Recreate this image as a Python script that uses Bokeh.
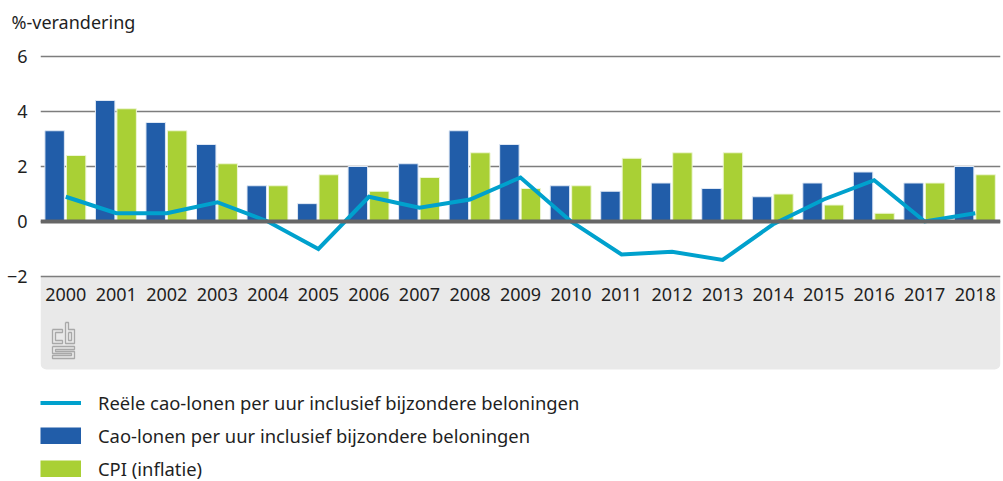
from bokeh.plotting import figure
from bokeh.embed import file_html
from bokeh.resources import INLINE
from bokeh.models import (ColumnDataSource, FactorRange, Range1d, FixedTicker, Span, BoxAnnotation,
                          Legend, LegendItem)
from bokeh.transform import dodge

years = [str(y) for y in range(2000, 2019)]
cao = [3.3, 4.4, 3.6, 2.8, 1.3, 0.65, 2.0, 2.1, 3.3, 2.8, 1.3, 1.1, 1.4, 1.2, 0.9, 1.4, 1.8, 1.4, 2.0]
cpi = [2.4, 4.1, 3.3, 2.1, 1.3, 1.7, 1.1, 1.6, 2.5, 1.2, 1.3, 2.3, 2.5, 2.5, 1.0, 0.6, 0.3, 1.4, 1.7]
reeel = [0.9, 0.3, 0.3, 0.7, 0.0, -1.0, 0.9, 0.5, 0.8, 1.6, 0.0, -1.2, -1.1, -1.4, -0.1, 0.8, 1.5, 0.0, 0.3]
y_ticks = [-2, 0, 2, 4, 6]
FONT = "Noto Sans"
TXT = "#1f1f1f"
BLUE = "#215da9"
GREEN = "#a9d035"

# outlines of the logo, in page pixels
logo_xs = [[52, 62, 62, 55, 55, 62, 62, 52, 52],
           [65, 68, 68, 74, 74, 65, 65],
           [68, 71, 71, 68, 68],
           [52, 74, 74, 55, 55, 74, 74, 52, 52, 71, 71, 52, 52]]
logo_ys = [[329, 329, 332, 332, 340, 340, 343, 343, 329],
           [322, 322, 329, 329, 343, 343, 322],
           [332, 332, 340, 340, 332],
           [346, 346, 349, 349, 351, 351, 358, 358, 355, 355, 353, 353, 346]]

src = ColumnDataSource(dict(year=years, cao=cao, cpi=cpi, reeel=reeel))

PX_PER_UNIT = 27.5
PX_PER_YEAR = 960 / 19
y_top = 6 + (56 - 40) / PX_PER_UNIT
y_bottom = -2 - (481 - 276) / PX_PER_UNIT

p = figure(width=1003, height=481, output_backend="svg", toolbar_location=None,
           x_range=FactorRange(factors=years, range_padding=0, factor_padding=0),
           y_range=Range1d(y_bottom, y_top),
           min_border_left=40, min_border_right=3, min_border_top=40, min_border_bottom=0,
           background_fill_color=None, border_fill_color="white", outline_line_color=None)

p.title.text = "%-verandering"
p.title.text_font = FONT
p.title.text_font_size = "18px"
p.title.text_font_style = "normal"
p.title.text_color = TXT
p.title.align = "left"
p.title.offset = -29
p.title.standoff = 13

p.xgrid.visible = False
p.ygrid.ticker = FixedTicker(ticks=y_ticks)
p.ygrid.grid_line_color = "#7d7d7d"
p.ygrid.grid_line_width = 1.4

panel = BoxAnnotation(top=-2, bottom=-2 - 93 / PX_PER_UNIT, fill_color="#e9e9e9", fill_alpha=1,
                      line_color=None, level="image",
                      border_radius=dict(top_left=0, top_right=0, bottom_right=6, bottom_left=6))
p.add_layout(panel)

p.multi_line([[(x - 40) / PX_PER_YEAR for x in xs] for xs in logo_xs],
             [[6 - (y - 56) / PX_PER_UNIT for y in ys] for ys in logo_ys],
             line_color="#a8a8a8", line_width=1.3)

p.vbar(x=dodge("year", -0.22, range=p.x_range), top="cao", width=0.385, bottom=0, source=src,
       fill_color=BLUE, line_color="#dfe8f4", line_width=1)
p.vbar(x=dodge("year", 0.205, range=p.x_range), top="cpi", width=0.385, bottom=0, source=src,
       fill_color=GREEN, line_color="#eef6d6", line_width=1)

p.add_layout(Span(location=0, dimension="width", line_color="#666666", line_width=4))
l1 = p.line(x="year", y="reeel", source=src, line_color="#00a1cd", line_width=4, line_join="miter")

# thick undrawn lines give the full-size legend swatches
nan = float("nan")
k1 = p.line(years[:2], [nan, nan], line_color=BLUE, line_width=17)
k2 = p.line(years[:2], [nan, nan], line_color=GREEN, line_width=17)

for ax in (p.xaxis[0], p.yaxis[0]):
    ax.axis_line_color = None
    ax.major_tick_line_color = None
    ax.minor_tick_line_color = None
    ax.major_tick_out = 0
    ax.major_tick_in = 0
    ax.minor_tick_out = 0
    ax.major_label_text_font = FONT
    ax.major_label_text_font_size = "18px"
    ax.major_label_text_color = TXT
p.yaxis[0].ticker = FixedTicker(ticks=y_ticks)
p.yaxis[0].major_label_overrides = {-2: "\u22122"}
p.yaxis[0].major_label_standoff = 13
p.xaxis[0].fixed_location = -2
p.xaxis[0].major_label_standoff = 11

legend = Legend(items=[
    LegendItem(label="Re\u00eble cao-lonen per uur inclusief bijzondere beloningen", renderers=[l1]),
    LegendItem(label="Cao-lonen per uur inclusief bijzondere beloningen", renderers=[k1]),
    LegendItem(label="CPI (inflatie)", renderers=[k2]),
], location=(0, 0), orientation="vertical", background_fill_alpha=0, border_line_color=None,
    glyph_width=41, glyph_height=17, label_standoff=17, spacing=8, padding=0, margin=0,
    label_text_font=FONT, label_text_font_size="18.4px", label_text_color=TXT, label_height=22)
p.add_layout(legend, "center")

open("out.html", "w").write(file_html(p, INLINE))
